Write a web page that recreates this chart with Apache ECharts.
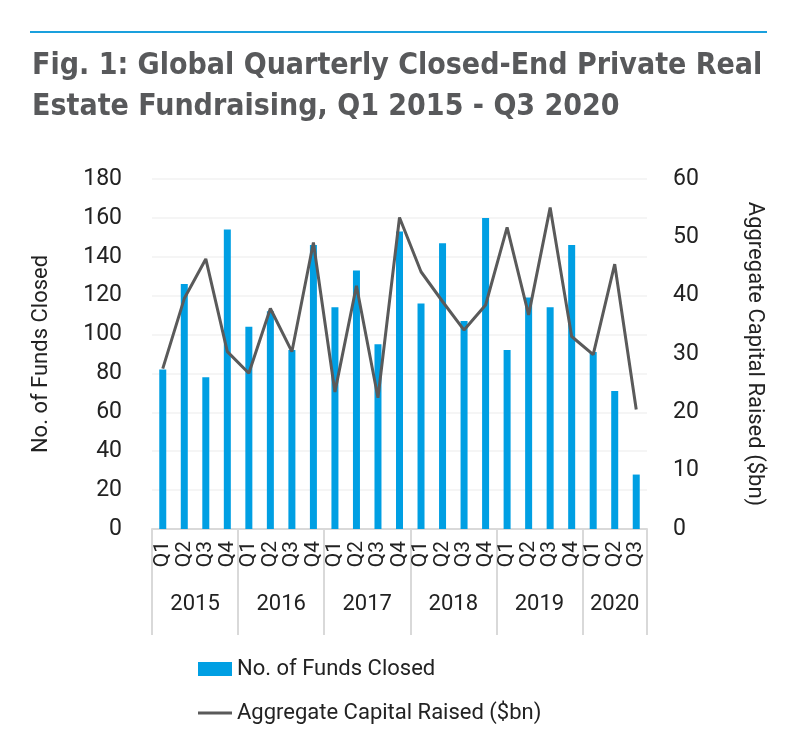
<!DOCTYPE html>
<html>
<head>
<meta charset="utf-8">
<script src="https://cdn.jsdelivr.net/npm/echarts@6.0.0/dist/echarts.min.js"></script>
<style>
  html, body { margin: 0; padding: 0; background: #fff; }
  #main { width: 797px; height: 747px; }
</style>
</head>
<body>
<div id="main"></div>
<script>
    var quarters = ['Q1', 'Q2', 'Q3', 'Q4', 'Q1', 'Q2', 'Q3', 'Q4', 'Q1', 'Q2', 'Q3', 'Q4',
        'Q1', 'Q2', 'Q3', 'Q4', 'Q1', 'Q2', 'Q3', 'Q4', 'Q1', 'Q2', 'Q3'];
    var years = ['2015', '2016', '2017', '2018', '2019', '2020'];
    var quartersPerYear = [4, 4, 4, 4, 4, 3];

    // 左轴: 基金数量
    var fundsClosed = [82, 126, 78, 154, 104, 112, 92, 146, 114, 133, 95, 153,
        116, 147, 107, 160, 92, 119, 114, 146, 91, 71, 28];
    // 右轴: 募资总额 ($bn)
    var capitalRaised = [27.5, 39.5, 46.3, 30.4, 26.7, 37.8, 30.4, 49.1, 23.5, 41.7, 22.5, 53.4,
        44.1, 39.0, 34.1, 38.4, 51.7, 36.7, 55.1, 33.0, 29.9, 45.4, 20.5];

    var font = 'Roboto, "Noto Sans", sans-serif';
    var titleFont = '"DejaVu Sans Condensed", Roboto, sans-serif';
    var textColor = '#222';

    // 年份分隔线和年份标签的位置
    var yearEdges = [0];
    var yearMids = [];
    for (var i = 0; i < quartersPerYear.length; i++) {
        var start = yearEdges[yearEdges.length - 1];
        yearMids.push(start + quartersPerYear[i] / 2);
        yearEdges.push(start + quartersPerYear[i]);
    }

    var chart = echarts.init(document.getElementById('main'));

    var option = {
        animation: false,
        title: {
            text: 'Fig. 1: Global Quarterly Closed-End Private Real\nEstate Fundraising, Q1 2015 - Q3 2020',
            left: 27,
            top: 41,
            textStyle: {
                fontFamily: titleFont,
                fontWeight: 'bold',
                fontSize: 30,
                lineHeight: 41,
                color: '#58595b'
            }
        },
        graphic: [{
            type: 'line',
            shape: { x1: 30, y1: 32, x2: 767, y2: 32 },
            style: { stroke: '#1aa0dd', lineWidth: 2 }
        }],
        legend: {
            orient: 'vertical',
            left: 193,
            top: 653,
            itemGap: 22,
            itemWidth: 34,
            itemHeight: 14,
            textStyle: { fontFamily: font, fontSize: 22, color: textColor },
            data: [
                { name: 'No. of Funds Closed', icon: 'rect' },
                {
                    name: 'Aggregate Capital Raised ($bn)',
                    icon: 'path://M0,0 M0,5.5 L34,5.5 L34,8.5 L0,8.5 Z M34,14',
                    itemStyle: { color: '#5a5a5a' }
                }
            ]
        },
        grid: {
            left: 152,
            right: 150,
            top: 179,
            bottom: 218
        },
        xAxis: [{
            type: 'category',
            data: quarters,
            position: 'bottom',
            axisLine: { lineStyle: { color: '#d9d9d9', width: 2 } },
            axisTick: { show: false },
            axisLabel: {
                interval: 0,
                rotate: 90,
                margin: 12,
                fontFamily: font,
                fontSize: 21,
                color: textColor
            }
        }, {
            type: 'value',
            min: 0,
            max: quarters.length,
            position: 'bottom',
            axisLine: { show: false },
            splitLine: { show: false },
            axisTick: {
                show: true,
                customValues: yearEdges,
                length: 106,
                lineStyle: { color: '#d9d9d9', width: 2 }
            },
            axisLabel: {
                customValues: yearMids,
                margin: 64,
                fontFamily: font,
                fontSize: 22,
                color: textColor,
                formatter: function (v) {
                    var idx = yearMids.indexOf(v);
                    return idx >= 0 ? years[idx] : '';
                }
            }
        }],
        yAxis: [{
            type: 'value',
            min: 0,
            max: 180,
            interval: 20,
            name: 'No. of Funds Closed',
            nameLocation: 'middle',
            nameGap: 100,
            nameTextStyle: { fontFamily: font, fontSize: 22, color: textColor },
            axisLine: { show: false },
            axisTick: { show: false },
            axisLabel: { margin: 30, fontFamily: font, fontSize: 23, color: textColor },
            splitLine: { lineStyle: { color: '#f2f2f2', width: 1.5 } }
        }, {
            type: 'value',
            min: 0,
            max: 60,
            interval: 10,
            position: 'right',
            name: 'Aggregate Capital Raised ($bn)',
            nameLocation: 'middle',
            nameGap: 96,
            nameRotate: -90,
            nameTextStyle: { fontFamily: font, fontSize: 22, color: textColor },
            axisLine: { show: false },
            axisTick: { show: false },
            axisLabel: { margin: 26, fontFamily: font, fontSize: 23, color: textColor },
            splitLine: { show: false }
        }],
        series: [{
            name: 'No. of Funds Closed',
            type: 'bar',
            xAxisIndex: 0,
            yAxisIndex: 0,
            barWidth: 7,
            itemStyle: { color: '#009fe3' },
            data: fundsClosed
        }, {
            name: 'Aggregate Capital Raised ($bn)',
            type: 'line',
            xAxisIndex: 0,
            yAxisIndex: 1,
            symbol: 'none',
            lineStyle: { color: '#5a5a5a', width: 3 },
            itemStyle: { color: '#5a5a5a' },
            data: capitalRaised
        }]
    };

    chart.setOption(option);
</script>
</body>
</html>
